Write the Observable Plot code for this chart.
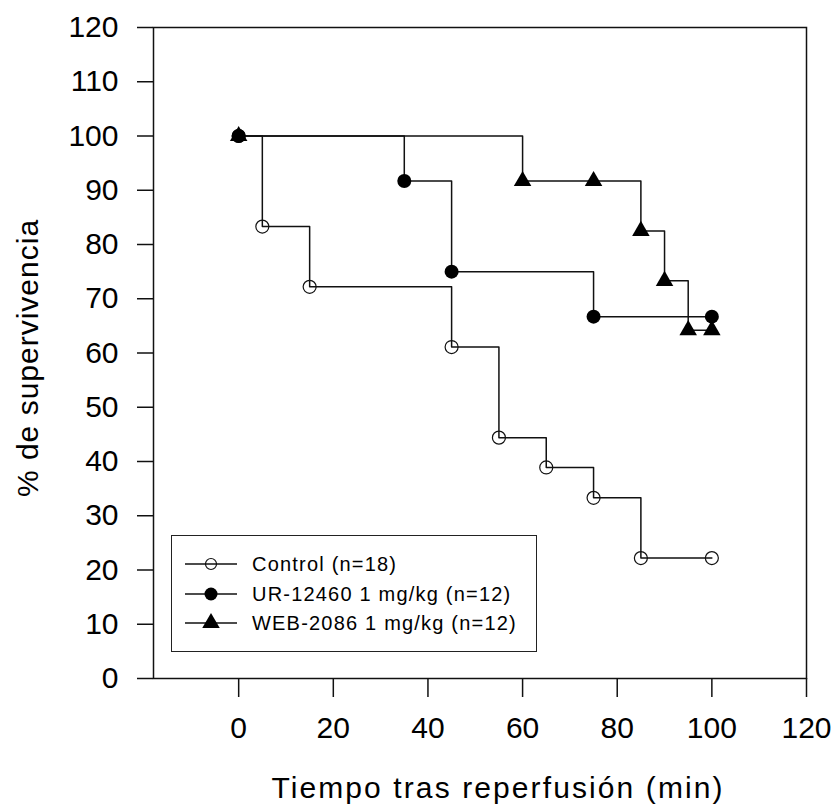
<!DOCTYPE html>
<html>
<head>
<meta charset="utf-8">
<script src="https://cdn.jsdelivr.net/npm/d3@7"></script>
<script src="https://cdn.jsdelivr.net/npm/@observablehq/plot@0.6"></script>
<style>
  body { margin: 0; background: #fff; }
  #wrap { position: relative; width: 834px; height: 806px; font-family: "Liberation Sans", Arial, sans-serif; }
  #legend { position: absolute; left: 171px; top: 535px; width: 366px; height: 117px; border: 1.5px solid #222; background: #fff; box-sizing: border-box; }
  .row { position: absolute; left: 0; height: 24px; display: flex; align-items: center; }
  .row svg { display: block; }
  .row span { font-size: 20px; letter-spacing: 1.2px; color: #000; margin-left: 14px; white-space: nowrap; }
  .xtitle text { letter-spacing: 2.1px; }
  .ytitle text { letter-spacing: 1px; }
</style>
</head>
<body>
<div id="wrap"></div>
<script>
// ---- data ----
const seriesNames = ["Control (n=18)", "UR-12460 1 mg/kg (n=12)", "WEB-2086 1 mg/kg (n=12)"];
const controlTime = [0, 5, 15, 45, 55, 65, 75, 85, 100];
const controlSurv = [100, 83.3, 72.2, 61.1, 44.4, 38.9, 33.3, 22.2, 22.2];
const urTime = [0, 35, 45, 75, 100];
const urSurv = [100, 91.7, 75, 66.7, 66.7];
const webTime = [0, 60, 75, 85, 90, 95, 100];
const webSurv = [100, 91.7, 91.7, 82.5, 73.3, 64.2, 64.2];
const xTicks = [0, 20, 40, 60, 80, 100, 120];
const yTicks = [0, 10, 20, 30, 40, 50, 60, 70, 80, 90, 100, 110, 120];
const xTitle = "Tiempo tras reperfusión (min)";
const yTitle = "% de supervivencia";

const toRows = (name, T, S) => T.map((t, i) => ({series: name, t, s: S[i]}));
const control = toRows(seriesNames[0], controlTime, controlSurv);
const ur = toRows(seriesNames[1], urTime, urSurv);
const web = toRows(seriesNames[2], webTime, webSurv);
const all = [...control, ...ur, ...web];

const ink = "#111";
const chart = Plot.plot({
  width: 834,
  height: 806,
  marginLeft: 153,
  marginRight: 28,
  marginTop: 27,
  marginBottom: 128,
  style: {fontFamily: "'Liberation Sans', Arial, sans-serif", fontSize: "30px", color: "#000", background: "#fff"},
  x: {domain: [-18, 120], label: null},
  y: {domain: [0, 120], label: null},
  marks: [
    Plot.frame({stroke: ink, strokeWidth: 1.5}),
    Plot.axisY(yTicks, {tickSize: 16, tickPadding: 19, fontSize: 30, strokeWidth: 1.5, stroke: ink, label: null}),
    Plot.axisX(xTicks, {tickSize: 19, tickPadding: 19, fontSize: 30, strokeWidth: 1.5, stroke: ink, label: null}),
    Plot.line(all, {x: "t", y: "s", z: "series", curve: "step-after", stroke: ink, strokeWidth: 1.5}),
    Plot.dot(control, {x: "t", y: "s", symbol: "circle", r: 6.5, fill: "none", stroke: ink, strokeWidth: 1.2}),
    Plot.dot(web, {x: "t", y: "s", symbol: "triangle", r: 6.5, fill: "#000", stroke: "none"}),
    Plot.dot(ur, {x: "t", y: "s", symbol: "circle", r: 7, fill: "#000", stroke: "none"}),
    Plot.text([xTitle], {text: d => d, className: "xtitle", frameAnchor: "bottom", textAnchor: "middle", dx: 18, dy: 110, lineAnchor: "middle", fontSize: 30, fill: "#000"}),
    Plot.text([yTitle], {text: d => d, className: "ytitle", frameAnchor: "left", textAnchor: "middle", dx: -125, dy: 5, rotate: -90, lineAnchor: "middle", fontSize: 30, fill: "#000"})
  ]
});
const wrap = document.getElementById("wrap");
wrap.appendChild(chart);

// ---- legend (inside the plot frame) ----
const legend = document.createElement("div");
legend.id = "legend";
const symbols = [
  {fill: "none", stroke: ink, type: d3.symbolCircle, size: Math.PI * 5.5 * 5.5},
  {fill: "#000", stroke: "none", type: d3.symbolCircle, size: Math.PI * 6.5 * 6.5},
  {fill: "#000", stroke: "none", type: d3.symbolTriangle, size: Math.PI * 6.5 * 6.5}
];
const rowTops = [16, 46, 75];
seriesNames.forEach((name, i) => {
  const row = document.createElement("div");
  row.className = "row";
  row.style.top = rowTops[i] + "px";
  row.style.left = "12px";
  const svg = d3.create("svg").attr("width", 54).attr("height", 24);
  svg.append("line").attr("x1", 1).attr("x2", 53).attr("y1", 12).attr("y2", 12)
    .attr("stroke", ink).attr("stroke-width", 1.5);
  svg.append("path").attr("transform", "translate(27,12)")
    .attr("d", d3.symbol(symbols[i].type, symbols[i].size)())
    .attr("fill", symbols[i].fill).attr("stroke", symbols[i].stroke).attr("stroke-width", 1.2);
  row.appendChild(svg.node());
  const span = document.createElement("span");
  span.textContent = name;
  row.appendChild(span);
  legend.appendChild(row);
});
wrap.appendChild(legend);
</script>
</body>
</html>
